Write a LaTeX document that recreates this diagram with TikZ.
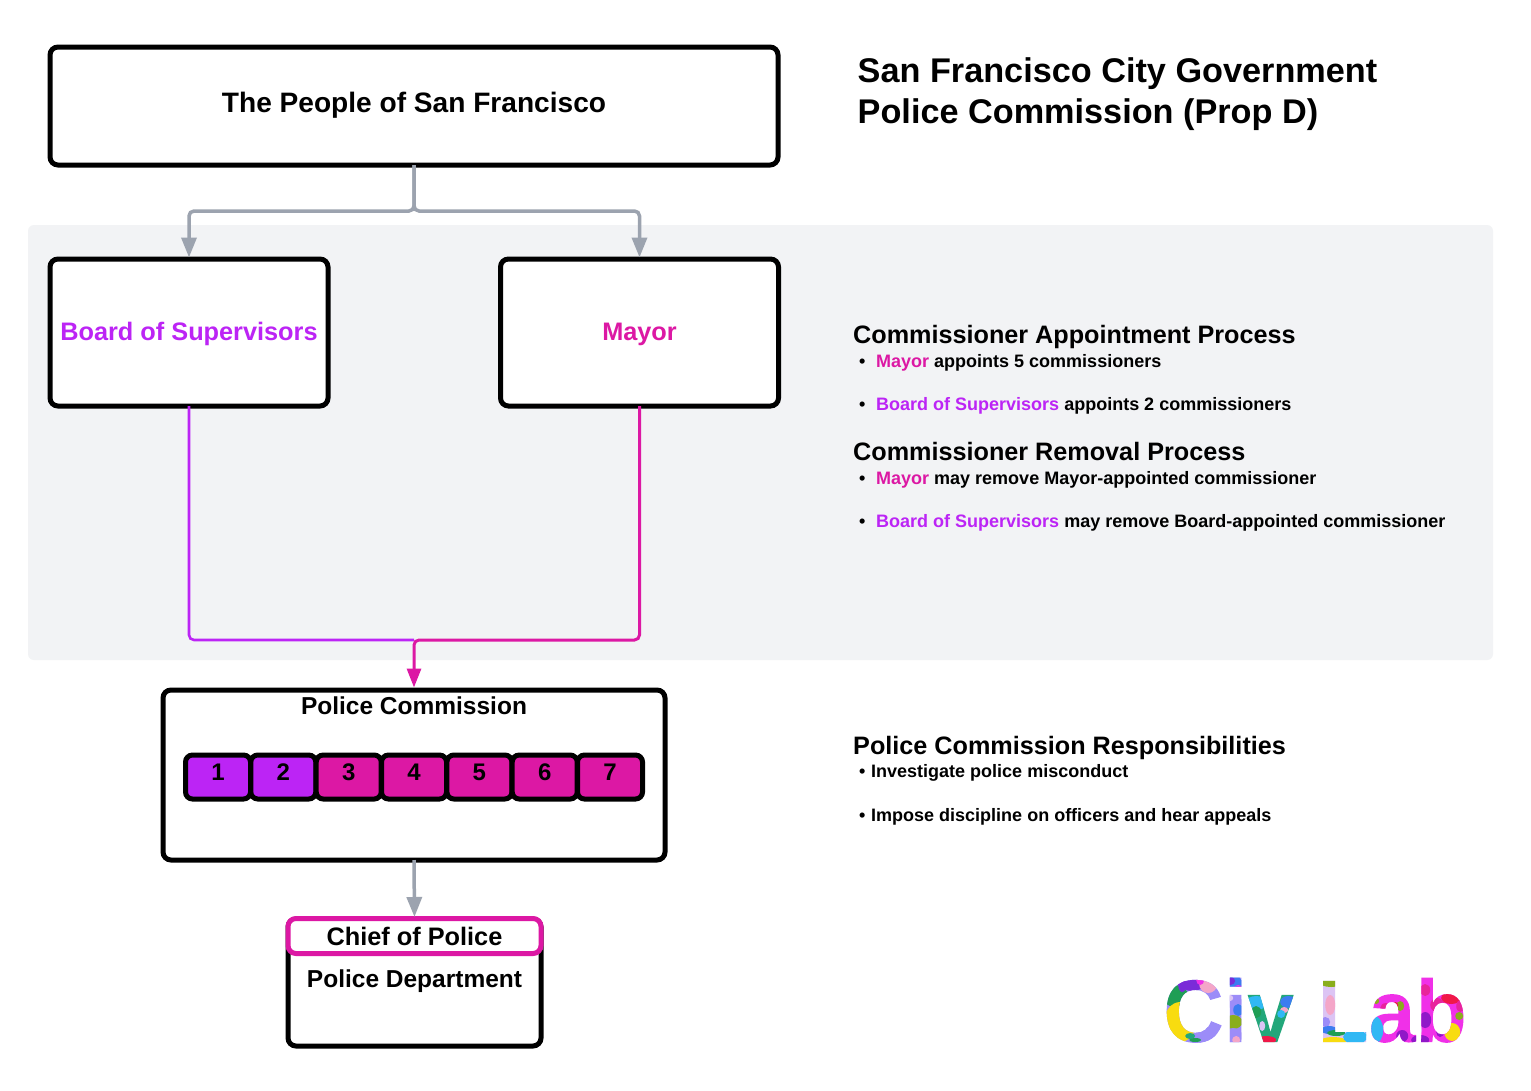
\documentclass[tikz,border=0pt]{standalone}
\usepackage{fontspec}
\setmainfont{Liberation Sans}
\newfontfamily\civfont[FakeStretch=0.945]{Liberation Sans}
\usetikzlibrary{arrows.meta}
\definecolor{panelc}{HTML}{F2F3F5}
\definecolor{greyc}{HTML}{9CA3AF}
\definecolor{purplec}{HTML}{BC24F5}
\definecolor{magc}{HTML}{DC18A4}
\definecolor{lYel}{HTML}{F8DC10}
\definecolor{lGrn}{HTML}{1F9E55}
\definecolor{lTeal}{HTML}{22A77A}
\definecolor{lPur}{HTML}{7A2BD8}
\definecolor{lPeri}{HTML}{9C8CF8}
\definecolor{lPink}{HTML}{F4A6C8}
\definecolor{lBlue}{HTML}{3C7CF0}
\definecolor{lCyan}{HTML}{30B8F4}
\definecolor{lOli}{HTML}{8AAE1C}
\definecolor{lRed}{HTML}{F01848}
\definecolor{lLav}{HTML}{DCC4F4}
\definecolor{lMag}{HTML}{F030E8}
\definecolor{lDark}{HTML}{9018C8}
\definecolor{lRose}{HTML}{E8249C}
\newcommand{\fsz}[1]{\fontsize{#1pt}{#1pt}\selectfont\bfseries}
\tikzset{
  x=1pt,y=-1pt,
  box/.style={draw=black,line width=5pt,rounded corners=8pt,fill=white,inner sep=0pt,outer sep=0pt,text=black},
  cell/.style={draw=black,line width=5pt,rounded corners=7pt,minimum width=65pt,minimum height=44pt,inner sep=0pt,outer sep=0pt},
  numlab/.style={anchor=base,text=black,font=\fsz{24},inner sep=0pt},
  lab/.style={anchor=base,text=black,inner sep=0pt},
  txt/.style={anchor=base west,text=black,inner sep=0pt,font=\fsz{#1}},
  greyline/.style={draw=greyc,line width=3.5pt,rounded corners=5pt,-{Triangle[length=20pt,width=15pt]},shorten >=1.5pt},
  purpleline/.style={draw=purplec,line width=2.6pt,rounded corners=5pt},
  magline/.style={draw=magc,line width=3pt,rounded corners=5pt},
}
\newsavebox{\civbox}
\newcommand{\civpaint}{%
  \begin{tikzpicture}[overlay,baseline=0pt,shift={(-1163,-1042)}]
  \fill[lPeri] (1160,970) rectangle (1222,1050);
  \fill[lPeri] (1222,970) rectangle (1244,1050);
  \fill[lTeal] (1244,970) rectangle (1300,1050);
  \fill[lLav] (1318,970) rectangle (1368,1050);
  \fill[lMag] (1368,970) rectangle (1470,1050);
  \foreach \c/\x/\y/\a/\b in {
    lGrn/1175/996/13/11, lYel/1180/1022/16/20, lYel/1172/1034/9/10, lPur/1192/984/12/7, lPink/1208/984/9/9,
    lPeri/1206/1036/11/9, lMag/1200/980/4/5, lTeal/1190/1036/5/3, lPur/1182/985/4/7, lGrn/1195/1040/6/2,
    lBlue/1233/984/9/9, lPur/1230/981/5/4, lMag/1238/988/4/3,
    lPeri/1233/1002/9/6, lBlue/1238/1010/5/6, lLav/1230/998/3/3, lOli/1233/1022/9/7, lPeri/1233/1036/9/8, lPink/1236/1040/4/4,
    lCyan/1256/1003/11/7, lBlue/1288/1002/8/6, lGrn/1256/1012/5/6, lRed/1266/1040/10/4,
    lPink/1284/1010/4/3, lLav/1262/1026/3/5, lCyan/1281/1014/4/4,
    lPink/1330/1005/5/10, lOli/1331/982/12/5, lPeri/1325/1022/5/5,
    lBlue/1329/1030/8/4, lGrn/1336/1033/9/3, lYel/1333/1041/13/4, lCyan/1355/1037/12/7,
    lCyan/1374/1030/9/14, lRose/1386/1008/6/5, lOli/1400/1006/4/5, lRed/1395/1005/3/3, lDark/1402/1036/6/6, lOli/1376/1001/3/3,
    lDark/1425/1020/6/8, lDark/1420/1040/9/5, lRose/1425/990/5/6, lLav/1419/1030/3/4,
    lRed/1451/998/10/6, lRose/1437/1005/7/7, lYel/1452/1032/8/9, lOli/1459/1016/4/4, lLav/1445/1018/5/4, lDark/1440/1032/4/5, lRose/1460/1006/4/6}{
    \fill[\c] (\x,\y) ellipse[x radius=\a pt,y radius=\b pt];
  }
  \end{tikzpicture}}
\begin{document}
\begin{tikzpicture}
\useasboundingbox (0,0) rectangle (1531,1090);
\fill[white] (0,0) rectangle (1531,1090);
\fill[panelc,rounded corners=6pt] (28,225) rectangle (1493,660);

\node[box,minimum width=728pt,minimum height=118pt] (people) at (414,106) {};
\node[lab,font=\fsz{28.1}] at (414,112) {The People of San Francisco};
\node[box,minimum width=278pt,minimum height=147pt] (bos) at (189,332.5) {};
\node[lab,font=\fsz{25.3},text=purplec] at (189,340) {Board of Supervisors};
\node[box,minimum width=278pt,minimum height=147pt] (mayor) at (639.5,332.5) {};
\node[lab,font=\fsz{25.3},text=magc] at (639.5,340) {Mayor};
\node[box,minimum width=502pt,minimum height=170pt] (comm) at (414,775) {};
\node[lab,font=\fsz{24.5}] at (414,714) {Police Commission};

\foreach \i/\c/\x in {1/purplec/218,2/purplec/283.3,3/magc/348.7,4/magc/414,5/magc/479.4,6/magc/544.7,7/magc/610}{
  \node[cell,fill=\c] (cell\i) at (\x,777) {};
  \node[numlab] at (\x,780) {\i};
}

\node[box,minimum width=253pt,minimum height=127pt] (dept) at (414.5,982.5) {};
\node[box,draw=magc,minimum width=253pt,minimum height=35pt] (chief) at (414.5,936) {};
\node[lab,font=\fsz{25.3}] at (414.5,945) {Chief of Police};
\node[lab,font=\fsz{24.5}] at (414.5,987) {Police Department};

\coordinate (split) at (414,211);
\coordinate (merge) at (414,640);
\draw[greyline] (people.south) -- (split) -| (bos.north);
\draw[greyline] (people.south) -- (split) -| (mayor.north);
\draw[purpleline] (bos.south) |- (merge);
\draw[magline,-{Triangle[length=19pt,width=14pt]},shorten >=2.5pt] (mayor.south) |- (merge) -- (comm.north);
\draw[greyline,rounded corners=0pt] (comm.south) -- (chief.north);

\node[txt=34.25] at (857.5,82) {San Francisco City Government};
\node[txt=34.25] at (857.5,123) {Police Commission (Prop D)};

\node[txt=25.2] at (853,343) {Commissioner Appointment Process};
\node[txt=18] at (859,367.2) {•};
\node[txt=18] at (876,367.2) {\textcolor{magc}{Mayor} appoints 5 commissioners};
\node[txt=18] at (859,410.2) {•};
\node[txt=18] at (876,410.2) {\textcolor{purplec}{Board of Supervisors} appoints 2 commissioners};
\node[txt=25.2] at (853,460) {Commissioner Removal Process};
\node[txt=18] at (859,484.2) {•};
\node[txt=18] at (876,484.2) {\textcolor{magc}{Mayor} may remove Mayor-appointed commissioner};
\node[txt=18] at (859,527.2) {•};
\node[txt=18] at (876,527.2) {\textcolor{purplec}{Board of Supervisors} may remove Board-appointed commissioner};

\node[txt=25.2] at (853,754) {Police Commission Responsibilities};
\node[txt=18] at (859,777.2) {•};
\node[txt=18] at (871,777.2) {Investigate police misconduct};
\node[txt=18] at (859,821.2) {•};
\node[txt=18] at (871,821.2) {Impose discipline on officers and hear appeals};

\node[txt=89,anchor=base west] (civ) at (1163,1042) {\civfont\bfseries\sbox{\civbox}{Civ Lab}\special{pdf:code q 7 Tr}Civ Lab\special{pdf:code 0 Tr}\kern-\wd\civbox\civpaint\special{pdf:code Q}\kern\wd\civbox};
\end{tikzpicture}
\end{document}
